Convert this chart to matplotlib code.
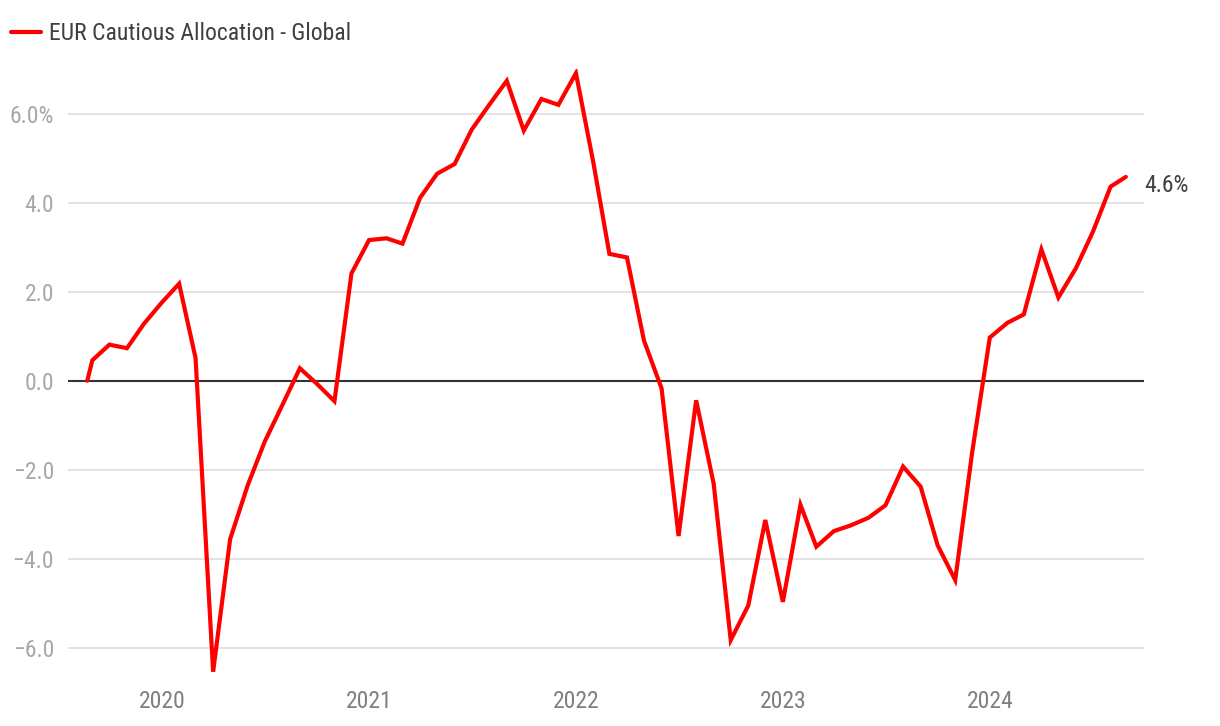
import matplotlib
matplotlib.use("Agg")
import matplotlib.pyplot as plt
from matplotlib.lines import Line2D
from matplotlib import font_manager
import pandas as pd

# ---------------- data ----------------
series_name = "EUR Cautious Allocation - Global"
start_date = "2019-08-22"
end_date = "2024-08-27"
month_ends = pd.date_range("2019-08-31", "2024-07-31", freq="ME")
values = [
    0.00,
    0.46, 0.81, 0.73, 1.28, 1.75,                      # Aug-Dec 2019
    2.18, 0.51, -6.54, -3.56, -2.35, -1.37,            # Jan-Jun 2020
    -0.55, 0.28, -0.07, -0.46, 2.41, 3.16,             # Jul-Dec 2020
    3.20, 3.08, 4.11, 4.65, 4.87, 5.64,                # Jan-Jun 2021
    6.20, 6.74, 5.62, 6.33, 6.20, 6.91,                # Jul-Dec 2021
    4.88, 2.85, 2.77, 0.90, -0.17, -3.49,              # Jan-Jun 2022
    -0.44, -2.32, -5.83, -5.05, -3.13, -4.97,          # Jul-Dec 2022
    -2.79, -3.73, -3.38, -3.25, -3.08, -2.80,          # Jan-Jun 2023
    -1.93, -2.38, -3.70, -4.48, -1.60, 0.97,           # Jul-Dec 2023
    1.30, 1.49, 2.95, 1.87, 2.53, 3.35,                # Jan-Jun 2024
    4.36, 4.58,                                        # Jul-Aug 2024
]
dates = [pd.Timestamp(start_date)] + list(month_ends) + [pd.Timestamp(end_date)]

y_ticks = [-6, -4, -2, 0, 2, 4, 6]
y_tick_labels = ["\u22126.0", "\u22124.0", "\u22122.0", "0.0", "2.0", "4.0", "6.0%"]
x_tick_years = [2020, 2021, 2022, 2023, 2024]

# ---------------- style ----------------
avail = {f.name for f in font_manager.fontManager.ttflist}
family = "DejaVu Sans"
for cand in ["Roboto Condensed", "Liberation Sans Narrow", "Open Sans Condensed", "Roboto"]:
    if cand in avail:
        family = cand
        break
plt.rcParams["font.family"] = [family, "DejaVu Sans"]

W, H = 1220, 726
fig = plt.figure(figsize=(W / 100, H / 100), dpi=100)
ax_left, ax_right = 68, 1144
ax_top_px, ax_bot_px = 69.2, 683.3
ax = fig.add_axes([ax_left / W, 1 - ax_bot_px / H, (ax_right - ax_left) / W, (ax_bot_px - ax_top_px) / H])

red = "#ff0000"
ax.plot(dates, values, color=red, lw=3.0, solid_joinstyle="miter", solid_capstyle="round", zorder=3)
ax.axhline(0, color="#333333", lw=1.5, zorder=2)

ax.set_ylim(-6.8, 7.0)
ax.set_xlim(pd.Timestamp("2019-07-19"), pd.Timestamp("2024-09-28"))

ax.set_yticks(y_ticks)
ax.set_yticklabels(y_tick_labels)
ax.set_xticks([pd.Timestamp(f"{y}-01-01") for y in x_tick_years])
ax.set_xticklabels([str(y) for y in x_tick_years])

ax.grid(axis="y", color="#e3e3e3", lw=1.4, zorder=1)
ax.grid(axis="x", visible=False)
for s in ax.spines.values():
    s.set_visible(False)
ax.tick_params(axis="y", length=0, pad=10, labelsize=17, labelcolor="#a8a8a8")
ax.tick_params(axis="x", length=0, pad=5, labelsize=17, labelcolor="#7f7f7f")

# end label
ax.annotate(f"{values[-1]:.1f}%", xy=(dates[-1], values[-1]), xytext=(13, -6),
            textcoords="offset points", va="center", ha="left",
            fontsize=17, color="#404040")

# legend (manual)
fig.add_artist(Line2D([11 / W, 41 / W], [1 - 32 / H, 1 - 32 / H], color=red, lw=3.0,
                      solid_capstyle="round", transform=fig.transFigure))
fig.text(49 / W, 1 - 33 / H, series_name, ha="left", va="center", fontsize=17, color="#404040")

fig.savefig("out.png", dpi=100)
